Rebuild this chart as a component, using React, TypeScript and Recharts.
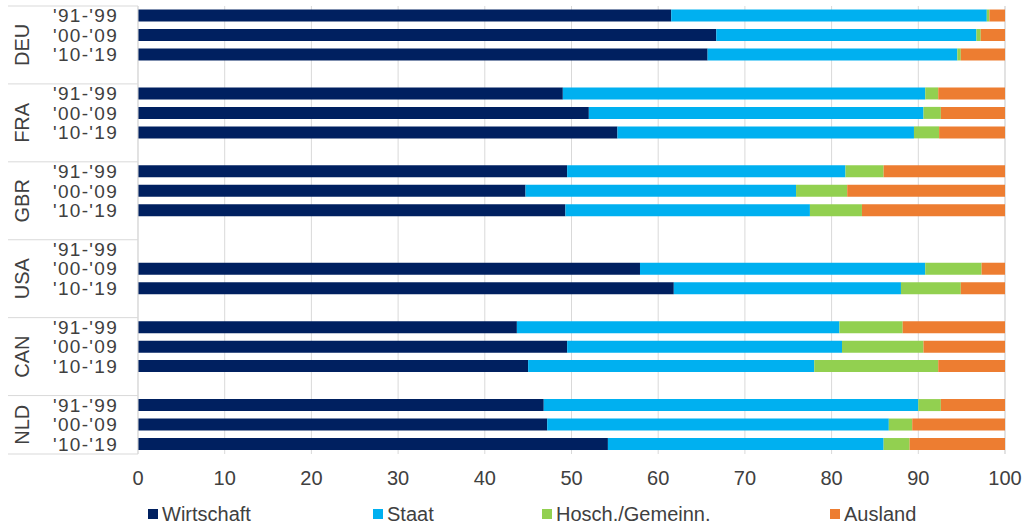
import { BarChart, Bar, XAxis, YAxis, CartesianGrid, Legend } from "recharts";

const countries = ["DEU", "FRA", "GBR", "USA", "CAN", "NLD"];
const periods = ["'91-'99", "'00-'09", "'10-'19"];

// shares in %, country by country, periods in the order above
const wirtschaft = [61.5, 66.7, 65.7, 49.0, 52.0, 55.3, 49.5, 44.7, 49.3, null, 57.9, 61.8, 43.7, 49.5, 45.0, 46.8, 47.2, 54.2];
const staat = [36.4, 30.0, 28.8, 41.8, 38.6, 34.2, 32.1, 31.2, 28.2, null, 32.9, 26.2, 37.2, 31.7, 33.0, 43.2, 39.4, 31.8];
const hosch = [0.3, 0.5, 0.4, 1.5, 2.0, 2.9, 4.4, 5.9, 6.0, null, 6.5, 6.9, 7.3, 9.4, 14.3, 2.6, 2.7, 3.0];
const ausland = [1.8, 2.8, 5.1, 7.7, 7.4, 7.6, 14.0, 18.2, 16.5, null, 2.7, 5.1, 11.8, 9.4, 7.7, 7.4, 10.7, 11.0];

const xTicks = [0, 10, 20, 30, 40, 50, 60, 70, 80, 90, 100];

const series = [
  { key: "wirtschaft", name: "Wirtschaft", color: "#002060" },
  { key: "staat", name: "Staat", color: "#00B0F0" },
  { key: "hosch", name: "Hosch./Gemeinn.", color: "#92D050" },
  { key: "ausland", name: "Ausland", color: "#ED7D31" },
];

// one empty row after each country group except the last, like the Excel original
const rows: any[] = [];
countries.forEach((c, ci) => {
  periods.forEach((p, pi) => {
    const i = ci * 3 + pi;
    rows.push({
      id: `${c}|${p}`,
      country: c,
      period: p,
      pos: pi,
      wirtschaft: wirtschaft[i],
      staat: staat[i],
      hosch: hosch[i],
      ausland: ausland[i],
    });
  });
  if (ci < countries.length - 1) {
    rows.push({ id: `${c}|gap`, country: c, period: "", pos: 3 });
  }
});

const FONT = "'Liberation Sans', Arial, sans-serif";
const TEXT = "#404040";
const GRID = "#d9d9d9";
const PLOT_TOP = 6;
const PLOT_BOTTOM = 454;
const ROW_H = (PLOT_BOTTOM - PLOT_TOP) / rows.length;

const legendX = [148, 373, 542, 830];

const PeriodTick = ({ x, y, index }: any) => {
  const row = rows[index];
  if (!row) return null;
  const last = index === rows.length - 1;
  const groupRows = row.country === countries[countries.length - 1] ? 3 : 4;
  return (
    <g>
      {row.period && (
        <text x={x} y={y} dy={6.5} textAnchor="end" fontSize={19} letterSpacing={1.3} fill={TEXT} fontFamily={FONT}>
          {row.period}
        </text>
      )}
      {row.pos === 0 && (
        <line x1={x - 110} x2={x + 20} y1={y - ROW_H / 2} y2={y - ROW_H / 2} stroke={GRID} />
      )}
      {last && (
        <line x1={x - 110} x2={x + 20} y1={y + ROW_H / 2} y2={y + ROW_H / 2} stroke={GRID} />
      )}
      {row.pos === 1 && (
        <text
          x={0}
          y={0}
          textAnchor="middle"
          fontSize={20}
          fill={TEXT}
          fontFamily={FONT}
          transform={`translate(${x - 89}, ${y + (groupRows === 4 ? ROW_H / 2 : 0)}) rotate(-90)`}
        >
          {row.country}
        </text>
      )}
    </g>
  );
};

const renderLegend = () => (
  <div style={{ position: "relative", height: 40, width: 1034 }}>
    {series.map((s, i) => (
      <div
        key={s.key}
        style={{
          position: "absolute",
          left: legendX[i],
          top: 19,
          display: "flex",
          alignItems: "center",
          fontFamily: FONT,
          fontSize: 20,
          lineHeight: "22px",
          color: TEXT,
          whiteSpace: "nowrap",
        }}
      >
        <span style={{ display: "inline-block", width: 10, height: 10, background: s.color, marginRight: 4 }} />
        {s.name}
      </div>
    ))}
  </div>
);

const App = () => {
  return (
    <div style={{ position: "absolute", left: 0, top: 0, width: 1034, height: 528, background: "#fff" }}>
      <BarChart
        width={1034}
        height={528}
        data={rows}
        layout="vertical"
        barCategoryGap="18%"
        margin={{ top: PLOT_TOP, right: 29, left: 10, bottom: 4 }}
      >
        <CartesianGrid vertical horizontal={false} stroke={GRID} />
        <XAxis
          type="number"
          domain={[0, 100]}
          ticks={xTicks}
          axisLine={false}
          tickLine={false}
          tickSize={6}
          tickMargin={11}
          height={30}
          tick={{ fontSize: 20, fill: TEXT, fontFamily: FONT }}
        />
        <YAxis
          type="category"
          dataKey="id"
          width={128}
          interval={0}
          axisLine={{ stroke: GRID }}
          tickLine={false}
          tickSize={6}
          tickMargin={14}
          tick={<PeriodTick />}
        />
        <Legend verticalAlign="bottom" height={40} content={renderLegend} wrapperStyle={{ left: 0, width: 1034 }} />
        {series.map((s) => (
          <Bar key={s.key} dataKey={s.key} name={s.name} stackId="a" fill={s.color} isAnimationActive={false} />
        ))}
      </BarChart>
    </div>
  );
};

export default App;
